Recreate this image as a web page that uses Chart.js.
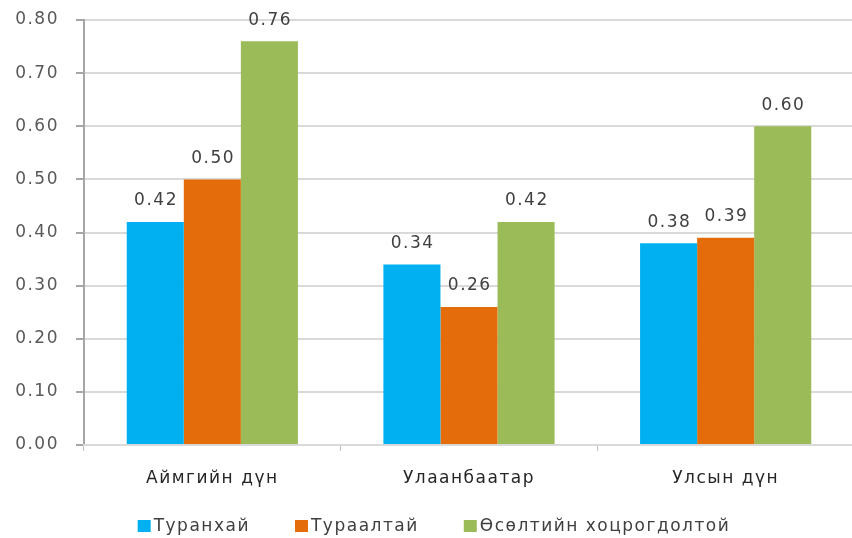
<!DOCTYPE html>
<html><head><meta charset="utf-8">
<script src="https://cdn.jsdelivr.net/npm/chart.js@4/dist/chart.umd.min.js"></script>
<style>html,body{margin:0;padding:0;background:#fff;overflow:hidden;width:852px;height:538px}#w{width:860px;height:538px}</style>
</head><body><div id="w"><canvas id="c" width="860" height="538"></canvas></div>
<script>
const categories = ["Аймгийн дүн", "Улаанбаатар", "Улсын дүн"];
const seriesNames = ["Туранхай", "Тураалтай", "Өсөлтийн хоцрогдолтой"];
const thin = [0.42, 0.34, 0.38];
const wasted = [0.50, 0.26, 0.39];
const stunted = [0.76, 0.42, 0.60];
const yTicks = [0, 0.1, 0.2, 0.3, 0.4, 0.5, 0.6, 0.7, 0.8];
const colors = ["#00B0F0", "#E46C0A", "#9BBB59"];
const FONT = '"DejaVu Sans", sans-serif';
const SPACING = '1.5px';

const spacingPlugin = {
  id: 'spacing',
  beforeUpdate(chart) { chart.ctx.letterSpacing = SPACING; },
  beforeDraw(chart) { chart.ctx.letterSpacing = SPACING; }
};

const labelPlugin = {
  id: 'vals',
  afterDatasetsDraw(chart) {
    const ctx = chart.ctx;
    ctx.save();
    ctx.letterSpacing = SPACING;
    ctx.font = '17px ' + FONT;
    ctx.fillStyle = '#404040';
    ctx.textAlign = 'center';
    ctx.textBaseline = 'middle';
    chart.data.datasets.forEach((ds, i) => {
      chart.getDatasetMeta(i).data.forEach((el, j) => {
        ctx.fillText(ds.data[j].toFixed(2), el.x + 0.75, el.y - 21);
      });
    });
    ctx.restore();
  }
};

const legendPlugin = {
  id: 'customLegend',
  afterDraw(chart) {
    const ctx = chart.ctx;
    ctx.save();
    ctx.font = '17px ' + FONT;
    ctx.letterSpacing = SPACING;
    ctx.textBaseline = 'middle';
    ctx.textAlign = 'left';
    const boxW = 13, boxH = 12, gapBox = 3, gapItem = 45;
    const items = chart.data.datasets.map(ds => ({ label: ds.label, color: ds.backgroundColor, w: ctx.measureText(ds.label).width }));
    const total = items.reduce((a, it) => a + boxW + gapBox + it.w, 0) + gapItem * (items.length - 1);
    let x = 434 - total / 2;
    const cy = 526;
    items.forEach(it => {
      ctx.fillStyle = it.color;
      ctx.fillRect(x, cy - boxH / 2, boxW, boxH);
      ctx.fillStyle = '#404040';
      ctx.fillText(it.label, x + boxW + gapBox, cy + 1);
      x += boxW + gapBox + it.w + gapItem;
    });
    ctx.restore();
  }
};

new Chart(document.getElementById('c'), {
  type: 'bar',
  data: {
    labels: categories,
    datasets: [thin, wasted, stunted].map((d, i) => ({
      label: seriesNames[i], data: d, backgroundColor: colors[i],
      borderWidth: 0, barPercentage: 1.0, categoryPercentage: 0.667
    }))
  },
  options: {
    responsive: false, animation: false,
    layout: { padding: { top: 20, left: 0, right: 6, bottom: 33 } },
    plugins: {
      legend: { display: false },
      tooltip: { enabled: false },
      title: { display: false }
    },
    scales: {
      y: {
        min: 0, max: 0.8,
        afterBuildTicks: (s) => { s.ticks = yTicks.map(v => ({ value: v })); },
        afterFit: (s) => { s.width = 84; s.paddingTop = 0; s.paddingBottom = 0; },
        ticks: {
          padding: 17, color: '#595959',
          font: { size: 17, family: FONT },
          callback: (v) => Number(v).toFixed(2)
        },
        grid: { color: '#d9d9d9', lineWidth: 2, tickLength: 8, tickColor: '#a6a6a6' },
        border: { color: '#a6a6a6', width: 2 }
      },
      x: {
        afterFit: (s) => { s.height = 60; s.paddingLeft = 0; s.paddingRight = 0; },
        ticks: {
          padding: 17, color: '#262626',
          font: { size: 17, family: FONT }
        },
        grid: { drawOnChartArea: false, offset: true, tickLength: 6, color: '#bfbfbf' },
        border: { color: '#d9d9d9', width: 2 }
      }
    }
  },
  plugins: [spacingPlugin, labelPlugin, legendPlugin]
});
</script></body></html>
